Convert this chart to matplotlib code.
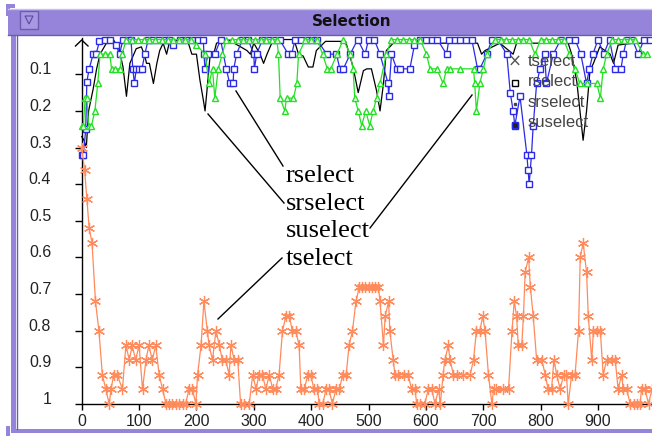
import matplotlib
matplotlib.use("Agg")
import matplotlib.pyplot as plt
from matplotlib.patches import Rectangle, Polygon

# ---------------- data ----------------
t_x = [0, 5, 9, 13, 18, 24, 30, 36, 42, 48, 51, 56, 62, 71, 77, 83, 88, 94, 100, 106, 112, 117, 123, 129, 135,
       141, 147, 152, 158, 164, 170, 176, 181, 187, 193, 199, 202, 208, 213, 219, 222, 228, 234, 240, 245, 251,
       257, 260, 266, 272, 277, 283, 292, 298, 304, 309, 315, 321, 327, 333, 338, 344, 350, 356, 362, 367, 373,
       379, 382, 388, 394, 399, 405, 411, 414, 420, 426, 431, 437, 443, 449, 455, 461, 466, 472, 478, 484,
       488, 494, 500, 506, 511, 517, 520, 526, 529, 535, 537, 543, 546, 552, 561, 569, 575, 581, 584, 590,
       598, 604, 610, 616, 622, 625, 630, 633, 639, 642, 648, 654, 665, 677, 683, 688, 694, 699, 703, 709,
       715, 718, 723, 735, 744, 750, 754, 758, 761, 767, 770, 773, 779, 782, 787, 793, 802, 808, 813, 819,
       823, 828, 834, 840, 845, 848, 854, 860, 866, 869, 874, 880, 883, 889, 892, 898, 904, 909, 915, 924,
       930, 935, 941, 944, 950, 956, 962, 968, 973, 976, 982, 988, 994]
t_v = [0.30, 0.36, 0.44, 0.52, 0.56, 0.72, 0.80, 0.92, 0.96, 1.0, 0.96, 0.92, 0.92, 0.96, 0.84, 0.88, 0.84,
       0.88, 0.84, 0.96, 0.88, 0.84, 0.88, 0.84, 0.92, 0.96, 1.0, 1.0, 1.0, 1.0, 1.0, 1.0, 1.0, 0.96, 0.96,
       1.0, 0.92, 0.84, 0.72, 0.80, 0.84, 0.88, 0.80, 0.84, 0.88, 0.88, 0.92, 0.84, 0.88, 0.88, 1.0, 1.0,
       1.0, 0.92, 0.96, 0.92, 0.92, 0.96, 0.92, 0.96, 0.96, 0.92, 0.80, 0.76, 0.76, 0.80, 0.80, 0.84, 0.96,
       0.96, 0.92, 0.92, 0.96, 0.96, 1.0, 1.0, 0.96, 0.96, 1.0, 0.96, 0.96, 0.92, 0.92, 0.84, 0.80, 0.72,
       0.68, 0.68, 0.68, 0.68, 0.68, 0.68, 0.68, 0.72, 0.84, 0.76, 0.72, 0.80, 0.88, 0.92, 0.92, 0.92, 0.92,
       0.96, 0.96, 1.0, 1.0, 1.0, 0.96, 0.96, 1.0, 0.96, 1.0, 0.92, 0.88, 0.84, 0.88, 0.92, 0.92, 0.92,
       0.92, 0.88, 0.80, 0.80, 0.76, 0.80, 0.92, 1.0, 0.96, 0.96, 0.96, 0.96, 0.80, 0.72, 0.76, 0.84, 0.84,
       0.76, 0.64, 0.60, 0.68, 0.76, 0.88, 0.88, 0.92, 0.96, 0.96, 0.88, 0.92, 0.96, 0.92, 0.92, 1.0, 0.92,
       0.92, 0.80, 0.60, 0.56, 0.64, 0.76, 0.88, 0.80, 0.80, 0.80, 0.92, 0.88, 0.88, 0.88, 0.96, 0.92,
       0.96, 0.96, 1.0, 1.0, 1.0, 1.0, 0.96, 0.96, 1.0, 0.96]

r_x = [0, 4, 8, 12, 20, 26, 32, 43, 55, 65, 72, 78, 84, 95, 104, 110, 113, 118, 125, 131, 136, 142, 148, 154,
       180, 186, 192, 200, 206, 212, 215, 218, 224, 230, 235, 255, 288, 294, 300, 311, 317, 323, 334, 370,
       378, 386, 392, 395, 403, 409, 425, 460, 473, 482, 491, 497, 505, 514, 520, 526, 531, 543, 690, 697,
       703, 729, 752, 758, 848, 854, 863, 874, 880, 886, 892, 903, 921, 927, 935, 960, 994]
r_v = [0.27, 0.28, 0.30, 0.20, 0.14, 0.085, 0.045, 0.015, 0.005, 0.03, 0.08, 0.16, 0.07, 0.03, 0.025, 0.05,
       0.07, 0.07, 0.125, 0.07, 0.035, 0.015, 0.045, 0.005, 0.01, 0.015, 0.045, 0.045, 0.115, 0.17, 0.2,
       0.15, 0.045, 0.045, 0.015, 0.005, 0.035, 0.045, 0.015, 0.045, 0.07, 0.045, 0.005, 0.005, 0.045, 0.05,
       0.07, 0.08, 0.08, 0.035, 0.01, 0.01, 0.08, 0.15, 0.09, 0.085, 0.085, 0.145, 0.2, 0.125, 0.035, 0.015,
       0.015, 0.045, 0.035, 0.015, 0.045, 0.015, 0.015, 0.045, 0.12, 0.28, 0.2, 0.09, 0.07, 0.025, 0.045,
       0.07, 0.02, 0.015, 0.015]

sr_x = [0, 3, 7, 9, 13, 20, 25, 31, 40, 50, 60, 66, 72, 80, 86, 89, 92, 95, 100, 105, 110, 116, 125, 135, 145,
        152, 160, 172, 182, 192, 202, 212, 213, 215, 220, 232, 242, 252, 258, 264, 265, 270, 280, 290, 300,
        301, 305, 315, 325, 335, 345, 360, 366, 372, 382, 392, 402, 410, 427, 444, 450, 456, 468, 481, 494,
        500, 510, 520, 534, 535, 540, 549, 555, 572, 580, 590, 600, 610, 620, 636, 640, 650, 660, 670, 680,
        690, 694, 706, 715, 725, 741, 747, 752, 755, 764, 776, 778, 780, 784, 787, 793, 799, 807, 810, 822,
        835, 850, 860, 870, 880, 885, 891, 900, 910, 920, 930, 940, 944, 950, 960, 970, 980, 990]
sr_v = [0.32, 0.32, 0.25, 0.12, 0.085, 0.045, 0.045, 0.01, 0.005, 0.005, 0.02, 0.045, 0.005, 0.005, 0.005,
        0.085, 0.125, 0.085, 0.085, 0.085, 0.045, 0.005, 0.005, 0.005, 0.005, 0.005, 0.02, 0.005, 0.005,
        0.005, 0.005, 0.005, 0.045, 0.085, 0.045, 0.045, 0.005, 0.085, 0.125, 0.125, 0.085, 0.045, 0.005,
        0.005, 0.045, 0.085, 0.045, 0.005, 0.005, 0.005, 0.005, 0.045, 0.045, 0.005, 0.005, 0.005, 0.005,
        0.005, 0.045, 0.045, 0.085, 0.085, 0.045, 0.005, 0.045, 0.005, 0.005, 0.045, 0.125, 0.16, 0.045,
        0.085, 0.085, 0.085, 0.02, 0.005, 0.005, 0.005, 0.005, 0.045, 0.005, 0.005, 0.005, 0.005, 0.005,
        0.085, 0.085, 0.045, 0.005, 0.005, 0.045, 0.15, 0.2, 0.24, 0.16, 0.32, 0.36, 0.40, 0.32, 0.24,
        0.125, 0.085, 0.045, 0.125, 0.045, 0.005, 0.005, 0.005, 0.045, 0.125, 0.085, 0.045, 0.005, 0.045,
        0.005, 0.085, 0.085, 0.045, 0.005, 0.005, 0.045, 0.005, 0.005]

su_x = [0, 3, 6, 9, 12, 17, 23, 28, 32, 40, 49, 52, 58, 67, 70, 78, 88, 98, 108, 118, 128, 140, 150, 160, 170,
        180, 190, 200, 215, 222, 228, 232, 238, 245, 252, 262, 272, 282, 292, 302, 312, 322, 332, 340, 343,
        346, 354, 357, 369, 375, 378, 390, 400, 410, 420, 428, 434, 445, 456, 468, 473, 476, 482, 488, 495,
        502, 508, 514, 520, 531, 540, 550, 560, 570, 580, 590, 601, 607, 619, 630, 636, 642, 660, 683, 685,
        688, 694, 700, 706, 720, 730, 740, 750, 760, 770, 780, 790, 800, 810, 820, 830, 840, 850, 860, 868,
        880, 898, 904, 909, 915, 925, 935, 945, 955, 965, 979, 985]
su_v = [0.24, 0.24, 0.165, 0.165, 0.24, 0.24, 0.2, 0.125, 0.045, 0.045, 0.045, 0.085, 0.085, 0.085, 0.045,
        0.005, 0.005, 0.005, 0.005, 0.005, 0.005, 0.005, 0.005, 0.005, 0.005, 0.005, 0.005, 0.02, 0.045,
        0.125, 0.085, 0.165, 0.085, 0.045, 0.005, 0.005, 0.005, 0.005, 0.005, 0.005, 0.005, 0.005, 0.005,
        0.005, 0.045, 0.165, 0.2, 0.165, 0.165, 0.125, 0.045, 0.005, 0.005, 0.005, 0.045, 0.085, 0.085,
        0.045, 0.005, 0.045, 0.085, 0.165, 0.2, 0.24, 0.2, 0.24, 0.2, 0.165, 0.125, 0.045, 0.005, 0.005,
        0.005, 0.005, 0.005, 0.005, 0.045, 0.085, 0.085, 0.125, 0.085, 0.085, 0.085, 0.085, 0.125, 0.2,
        0.125, 0.085, 0.045, 0.005, 0.005, 0.005, 0.005, 0.005, 0.005, 0.005, 0.045, 0.005, 0.005, 0.005,
        0.005, 0.005, 0.045, 0.085, 0.125, 0.125, 0.125, 0.165, 0.085, 0.045, 0.005, 0.005, 0.005, 0.005,
        0.005, 0.045, 0.045]

y_ticks = [0.1, 0.2, 0.3, 0.4, 0.5, 0.6, 0.7, 0.8, 0.9, 1.0]
y_labels = ["0.1", "0.2", "0.3", "0.4", "0.5", "0.6", "0.7", "0.8", "0.9", "1"]
x_ticks = [0, 100, 200, 300, 400, 500, 600, 700, 800, 900]
x_labels = ["0", "100", "200", "300", "400", "500", "600", "700", "800", "900"]
legend_names = ["tselect", "rselect", "srselect", "suselect"]
annot_names = ["rselect", "srselect", "suselect", "tselect"]

# ---------------- figure ----------------
W, H = 652, 436
fig = plt.figure(figsize=(W / 100, H / 100), dpi=100)
fig.patch.set_facecolor("white")

def fx(px):
    return px / W

def fy(py):
    return 1 - py / H

ax_left, ax_right = 81.7, 652.0
ax_top, ax_bot = 37.7, 404.0
ax = fig.add_axes([fx(ax_left), fy(ax_bot), (ax_right - ax_left) / W, (ax_bot - ax_top) / H])
ax.set_facecolor("white")
ax.set_xlim(0, (ax_right - ax_left) / 0.5737)
ax.set_ylim(1.0, 0.0)
for s in ["top", "right"]:
    ax.spines[s].set_visible(False)
for s in ["left", "bottom"]:
    ax.spines[s].set_linewidth(1.0)
    ax.spines[s].set_color("black")

ax.set_yticks(y_ticks)
ax.set_yticklabels(y_labels, fontfamily="Liberation Sans", verticalalignment="baseline")
ax.set_xticks(x_ticks)
ax.set_xticklabels(x_labels, fontfamily="Liberation Sans")
ax.tick_params(axis="y", direction="out", length=5, width=1, pad=17, labelsize=11.5,
               labelcolor="#222222")
ax.tick_params(axis="x", direction="out", length=4, width=1, pad=3, labelsize=11.5,
               labelcolor="#222222")

lw = 0.9
ax.plot(r_x, r_v, color="black", lw=lw, clip_on=False, zorder=3)
ax.plot(sr_x, sr_v, color="#2a2ae8", lw=lw, marker="s", ms=4.2, mfc="white", mec="#2a2ae8",
        mew=1.0, clip_on=False, zorder=4)
ax.plot(su_x, su_v, color="#22e022", lw=lw, marker="^", ms=4.2, mfc="white", mec="#22e022",
        mew=1.0, clip_on=False, zorder=5)
ax.plot(t_x, t_v, color="#ff8a5c", lw=lw, marker=(6, 2, 0), ms=8, mec="#ff8a5c", mew=0.9,
        clip_on=False, zorder=6)

# ---------------- overlay (window chrome, legend, annotations) ----------------
ov = fig.add_axes([0, 0, 1, 1], zorder=10)
ov.set_xlim(0, W)
ov.set_ylim(H, 0)
ov.axis("off")
ov.patch.set_alpha(0)

purple = "#9584d9"
ov.add_patch(Rectangle((8, 9), W - 8, 27, facecolor=purple, edgecolor="none"))
ov.plot([8, W], [9.5, 9.5], color="#c8c0ee", lw=1)
ov.plot([8, W], [35, 35], color="#6c5cb0", lw=1)
ov.add_patch(Rectangle((11, 36), 5, 396, facecolor=purple, edgecolor="none"))
ov.add_patch(Rectangle((11, 429), W - 11, 4, facecolor=purple, edgecolor="none"))
ov.plot([16.5, 16.5], [36, 429], color="#6c5cb0", lw=1)
ov.add_patch(Rectangle((6, 4), 9, 4, facecolor=purple, edgecolor="none"))
ov.add_patch(Rectangle((6, 4), 4, 12, facecolor=purple, edgecolor="none"))
ov.add_patch(Rectangle((6, 426), 4, 10, facecolor=purple, edgecolor="none"))
ov.add_patch(Rectangle((20, 11), 18, 18, facecolor="#a898e4", edgecolor="#6c5cb0", lw=1))
ov.add_patch(Polygon([(25, 16), (33, 16), (29, 24)], closed=True, facecolor="none",
                     edgecolor="#5a4aa0", lw=0.8))
ov.text(352, 21, "Selection", ha="center", va="center", fontsize=11, fontweight="bold",
        color="#111111", family="DejaVu Sans")

# y-axis arrow head
ov.plot([75.5, 81.7, 88], [46, 40, 46], color="black", lw=1)

# legend (drawn beneath the data, as in the original)
leg_y = [66, 86.5, 107, 127]
for name, yy in zip(legend_names, leg_y):
    fig.text(fx(528), fy(yy), name, fontsize=12, color="#444444", family="Liberation Sans",
             ha="left", va="baseline", zorder=1)
fig.text(fx(515), fy(62), "\u00d7", fontsize=12, color="#555555", ha="center", va="center", zorder=1)
fig.lines.append(plt.Line2D([fx(515)], [fy(83)], marker="s", ms=4, mfc="white", mec="black",
                            mew=1, transform=fig.transFigure, figure=fig))
fig.lines.append(plt.Line2D([fx(515)], [fy(104)], marker="s", ms=1.5, mfc="#444444", mec="#444444",
                            transform=fig.transFigure, figure=fig))
fig.lines.append(plt.Line2D([fx(515)], [fy(125)], marker="s", ms=4, mfc="#222222", mec="#2a2ae8",
                            mew=1, transform=fig.transFigure, figure=fig))

# annotation labels and pointer lines
ann_base = [182, 210, 237, 265]
for name, yy in zip(annot_names, ann_base):
    ov.text(286, yy, name, fontsize=19, family="Liberation Serif", color="black",
            ha="left", va="baseline")
ov.plot([208, 284], [114, 203], color="black", lw=1)
ov.plot([236, 283], [91, 166], color="black", lw=1)
ov.plot([472, 370], [95, 228], color="black", lw=1)
ov.plot([218, 282], [319, 258], color="black", lw=1)

fig.savefig("out.png", dpi=100)
